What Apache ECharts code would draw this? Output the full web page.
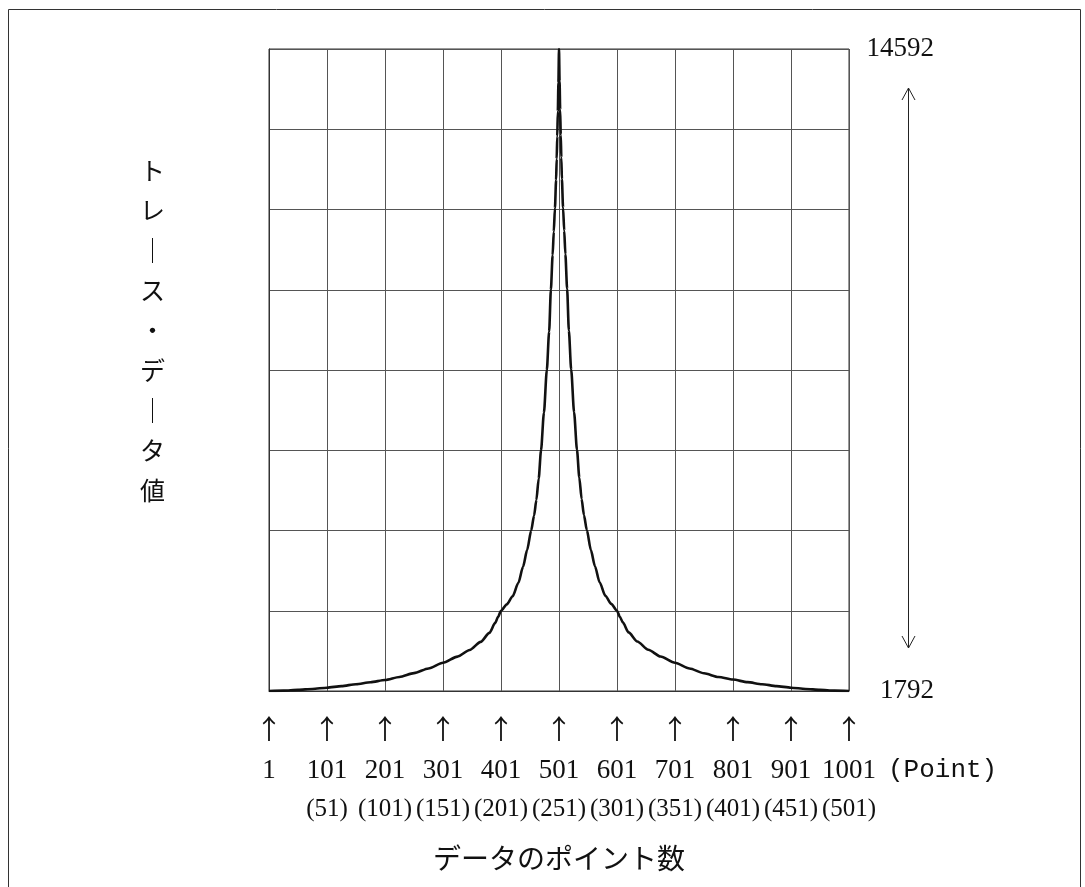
<!DOCTYPE html>
<html>
<head>
<meta charset="utf-8">
<script src="https://cdn.jsdelivr.net/npm/echarts@6/dist/echarts.min.js"></script>
<style>
  html, body { margin: 0; padding: 0; background: #fff; }
  #chart { width: 1085px; height: 887px; }
</style>
</head>
<body>
<div id="chart"></div>
<script>
// point number (x) and trace value (y)
const pointNo = [
  1, 26, 51, 76, 101, 126, 151, 176, 201, 226, 251, 276, 301, 326, 347, 366, 381, 391, 396, 401,
  411, 421, 431, 439, 446, 453, 458, 462, 466, 470, 475, 480, 484, 487, 490, 492, 494, 496, 497, 498, 499, 500,
  501,
  502, 503, 504, 505, 506, 508, 510, 512, 515, 518, 522, 527, 532, 536, 540, 544, 549, 556, 563, 571, 581, 591,
  601, 606, 611, 621, 636, 655, 676, 701, 726, 751, 776, 801, 826, 851, 876, 901, 926, 951, 976, 1001
];
const traceValue = [
  1792, 1800, 1815, 1833, 1858, 1890, 1928, 1966, 2011, 2072, 2148, 2242, 2356, 2478, 2610, 2772, 2950, 3150, 3270, 3392,
  3520, 3680, 3950, 4270, 4600, 4990, 5290, 5600, 6030, 6590, 7340, 8190, 8960, 9790, 10480, 10950, 11420, 11980, 12400, 12850, 13350, 13920,
  14592,
  13950, 13380, 12880, 12430, 12000, 11430, 10970, 10500, 9810, 8980, 8200, 7350, 6600, 6050, 5620, 5300, 5000, 4600, 4280, 3960, 3690, 3530,
  3392, 3270, 3160, 2960, 2780, 2615, 2480, 2356, 2240, 2145, 2070, 2020, 1968, 1928, 1890, 1858, 1833, 1815, 1800, 1792
];

// tick labels under the vertical grid lines
const tickPoint = ['1', '101', '201', '301', '401', '501', '601', '701', '801', '901', '1001'];
const tickHalf = ['', '(51)', '(101)', '(151)', '(201)', '(251)', '(301)', '(351)', '(401)', '(451)', '(501)'];
const yMin = 1792;
const yMax = 14592;

const serif = 'Liberation Serif';
const jp = 'Noto Sans CJK JP';

const chart = echarts.init(document.getElementById('chart'));

const option = {
  backgroundColor: '#fff',
  animation: false,
  title: [
    {
      // vertical y title
      text: 'ト\nレ\n｜\nス\n・\nデ\n｜\nタ\n値',
      left: 135, top: 145,
      textStyle: { fontFamily: jp, fontSize: 25, lineHeight: 40, fontWeight: 'normal', color: '#111' }
    },
    {
      text: '(Point)',
      left: 883, top: 752,
      textStyle: { fontFamily: 'Liberation Mono', fontSize: 26, fontWeight: 'normal', color: '#111' }
    }
  ],
  grid: {
    left: 269, top: 49, width: 580, height: 642,
    show: true, borderColor: '#333', borderWidth: 1,
    outerBoundsMode: 'none'
  },
  xAxis: [
    {
      // data axis (point number)
      type: 'value', min: 1, max: 1001, position: 'bottom',
      axisLine: { show: false }, axisTick: { show: false },
      axisLabel: { show: false }, splitLine: { show: false }
    },
    {
      // grid columns + labels
      type: 'value', min: 0, max: 10, interval: 1, position: 'bottom',
      axisLine: { show: true, lineStyle: { color: '#333', width: 1 } },
      axisTick: { show: false },
      splitLine: { show: true, lineStyle: { color: '#555', width: 1 } },
      axisLabel: {
        margin: 20,
        formatter: v => '{ar|↑}\n{n|' + tickPoint[v] + '}\n{s|' + (tickHalf[v] || ' ') + '}',
        rich: {
          ar: { fontFamily: jp, fontSize: 27, lineHeight: 36, color: '#111' },
          n: { fontFamily: serif, fontSize: 27, lineHeight: 48, color: '#111' },
          s: { fontFamily: serif, fontSize: 25, lineHeight: 28, color: '#111' }
        }
      },
      name: 'データのポイント数', nameLocation: 'middle', nameGap: 153,
      nameTextStyle: { fontFamily: jp, fontSize: 28, color: '#111' }
    }
  ],
  yAxis: [
    {
      type: 'value', min: yMin, max: yMax, position: 'right',
      axisLine: { show: false }, axisTick: { show: false }, splitLine: { show: false },
      axisLabel: {
        showMinLabel: true, showMaxLabel: true,
        formatter: v => (v === yMin || v === yMax) ? String(v) : '',
        align: 'right', margin: 85,
        fontFamily: serif, fontSize: 27, color: '#111'
      }
    },
    {
      // grid rows
      type: 'value', min: 0, max: 8, interval: 1, position: 'left',
      axisLine: { show: true, lineStyle: { color: '#333' } },
      axisTick: { show: false }, axisLabel: { show: false },
      splitLine: { show: true, lineStyle: { color: '#555', width: 1 } }
    }
  ],
  graphic: [
    { type: 'rect', shape: { x: 8.5, y: 9.5, width: 1072, height: 920 },
      style: { fill: 'none', stroke: '#333', lineWidth: 1 } },
    { type: 'line', shape: { x1: 908.5, y1: 88, x2: 908.5, y2: 648 },
      style: { stroke: '#222', lineWidth: 1 } },
    { type: 'polyline', shape: { points: [[902, 100], [908.5, 88], [915, 100]] },
      style: { fill: 'none', stroke: '#222', lineWidth: 1 } },
    { type: 'polyline', shape: { points: [[902, 636], [908.5, 648], [915, 636]] },
      style: { fill: 'none', stroke: '#222', lineWidth: 1 } }
  ],
  series: [
    {
      type: 'line', xAxisIndex: 0, yAxisIndex: 0,
      data: pointNo.map((p, i) => [p, traceValue[i]]),
      showSymbol: false, smooth: 0.25, smoothMonotone: 'x',
      lineStyle: { color: '#111', width: 2.6 }
    }
  ]
};

chart.setOption(option);
</script>
</body>
</html>
